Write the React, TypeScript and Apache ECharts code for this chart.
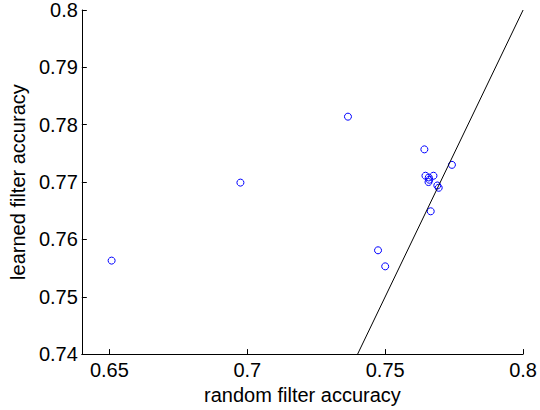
import React, { useEffect, useRef } from "react";
import * as echarts from "echarts";

const xTicks = [0.65, 0.7, 0.75, 0.8];
const yTicks = [0.74, 0.75, 0.76, 0.77, 0.78, 0.79, 0.8];
const randomAcc = [0.6508, 0.6975, 0.7365, 0.7642, 0.7742, 0.7646, 0.7675, 0.7658, 0.766, 0.7657, 0.7689, 0.7694, 0.7665, 0.7474, 0.75];
const learnedAcc = [0.7563, 0.7699, 0.7814, 0.7757, 0.773, 0.7711, 0.7711, 0.7708, 0.7704, 0.77, 0.7694, 0.769, 0.7649, 0.7581, 0.7553];
const diagonal = [0.74, 0.8];

export default function App() {
  const ref = useRef<HTMLDivElement>(null);
  useEffect(() => {
    const chart = echarts.init(ref.current!, null, { renderer: "svg" });
    const font = "'Liberation Sans', Arial, Helvetica, sans-serif";
    chart.setOption({
      animation: false,
      grid: { left: 78, right: 14, top: 10, bottom: 47, containLabel: false },
      xAxis: {
        type: "value",
        min: 0.64,
        max: 0.8,
        name: "random filter accuracy",
        nameLocation: "middle",
        nameGap: 25,
        nameTextStyle: { color: "#000", fontSize: 20, fontFamily: font },
        axisLine: { show: true, onZero: false, lineStyle: { color: "#000", width: 1 } },
        axisTick: { show: true, inside: true, length: 5, customValues: xTicks, lineStyle: { color: "#000" } },
        axisLabel: {
          color: "#000",
          fontSize: 20,
          fontFamily: font,
          margin: 6,
          customValues: xTicks,
          formatter: (v: number) => String(Math.round(v * 100) / 100),
        },
        splitLine: { show: false },
      },
      yAxis: {
        type: "value",
        min: 0.74,
        max: 0.8,
        name: "learned filter accuracy",
        nameLocation: "middle",
        nameGap: 43,
        nameTextStyle: { color: "#000", fontSize: 20, fontFamily: font },
        axisLine: { show: true, onZero: false, lineStyle: { color: "#000", width: 1 } },
        axisTick: { show: true, inside: true, length: 5, customValues: yTicks, lineStyle: { color: "#000" } },
        axisLabel: {
          color: "#000",
          fontSize: 20,
          fontFamily: font,
          margin: 4,
          customValues: yTicks,
          formatter: (v: number) => String(Math.round(v * 100) / 100),
        },
        splitLine: { show: false },
      },
      series: [
        {
          type: "line",
          data: diagonal.map((v) => [v, v]),
          showSymbol: false,
          symbol: "none",
          lineStyle: { color: "#000", width: 1 },
          silent: true,
        },
        {
          type: "scatter",
          data: randomAcc.map((x, i) => [x, learnedAcc[i]]),
          symbol: "circle",
          symbolSize: 7,
          itemStyle: { color: "rgba(0,0,0,0)", borderColor: "#0000ff", borderWidth: 1, opacity: 1 },
        },
      ],
    });
    return () => chart.dispose();
  }, []);
  return (
    <div
      ref={ref}
      style={{ position: "fixed", left: 0, top: 0, width: 540, height: 410, background: "#fff" }}
    />
  );
}
